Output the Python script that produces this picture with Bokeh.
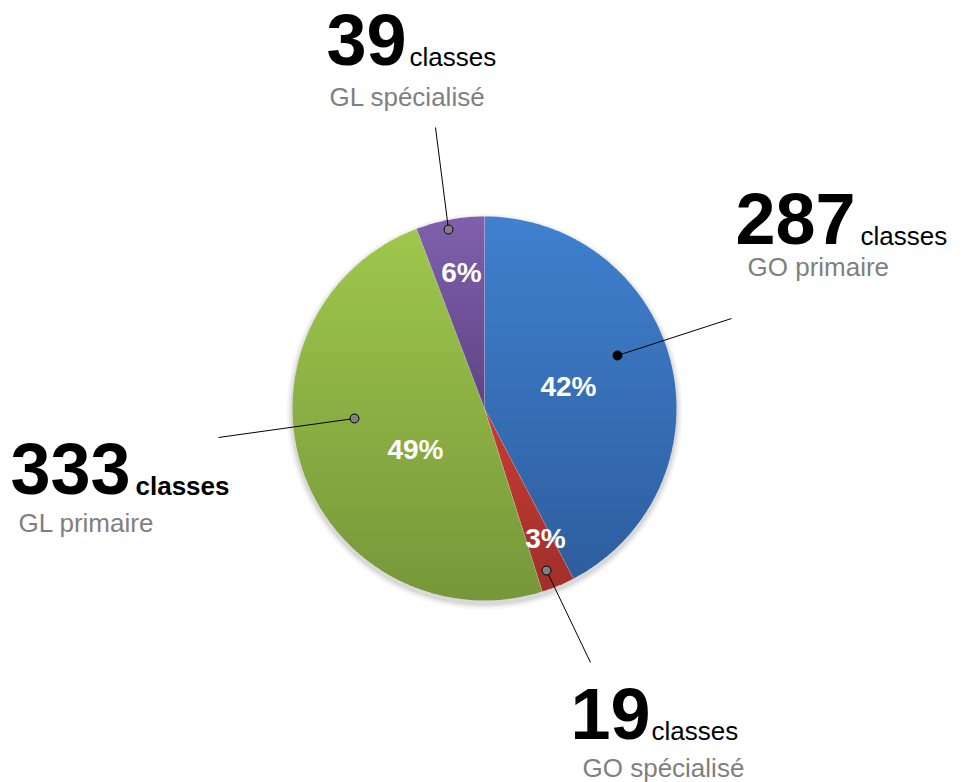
import numpy as np
from bokeh.plotting import figure
from bokeh.models import Range1d
from bokeh.embed import file_html
from bokeh.resources import INLINE
from bokeh.core.properties import value

# ---- data ----
categories = ["GO primaire", "GO spécialisé", "GL primaire", "GL spécialisé"]
counts = [287, 19, 333, 39]
unit_label = "classes"

# ---- styles ----
colors_top = ["#4080cf", "#c43d34", "#9fc74c", "#8060ac"]
colors_bottom = ["#2d5e9e", "#a02f2a", "#76973a", "#5e4485"]
FONT = "Liberation Sans"

W, H = 968, 782
cx, cy, R = 484, 408, 192
BASE_SHIFT = 0.375  # correction (in em) for baseline placement

# layout per category: number pos, unit pos, subtitle pos, unit bold, dot, leader end, dot color, pct pos
layout = {
    "GO primaire":   dict(num=(735, 245), unit=(860, 245), sub=(747, 276), bold=False,
                          dot=(617, 355), end=(731, 318), dotc="#000000", pct=(568, 386)),
    "GO spécialisé": dict(num=(570, 740), unit=(651, 740), sub=(582, 777), bold=False,
                          dot=(546, 570), end=(590, 662), dotc="#808080", pct=(545, 538)),
    "GL primaire":   dict(num=(10, 495), unit=(135, 495), sub=(18, 532), bold=True,
                          dot=(354, 418), end=(218, 437), dotc="#808080", pct=(415, 449)),
    "GL spécialisé": dict(num=(326, 66), unit=(409, 66), sub=(329, 106), bold=False,
                          dot=(448, 229), end=(435, 127), dotc="#808080", pct=(461, 272)),
}

p = figure(width=W, height=H, x_range=Range1d(0, W), y_range=Range1d(H, 0),
           x_axis_type=None, y_axis_type=None, toolbar_location=None,
           output_backend="svg", min_border=0)
p.grid.visible = False
p.outline_line_color = None
p.background_fill_color = "white"
p.border_fill_color = "white"


def hexrgb(h):
    h = h.lstrip("#")
    return np.array([int(h[i:i + 2], 16) for i in (0, 2, 4)], dtype=float)


def mix(c1, c2, t):
    c = hexrgb(c1) * (1 - t) + hexrgb(c2) * t
    return "#%02x%02x%02x" % tuple(int(round(v)) for v in c)


def clip(poly, y0, y1):
    def clip_half(pts, keep, yb):
        out = []
        n = len(pts)
        for i in range(n):
            a, b = pts[i], pts[(i + 1) % n]
            ka, kb = keep(a[1]), keep(b[1])
            if ka:
                out.append(a)
            if ka != kb:
                t = (yb - a[1]) / (b[1] - a[1])
                out.append((a[0] + t * (b[0] - a[0]), yb))
        return out
    pts = clip_half(poly, lambda y: y >= y0, y0)
    if len(pts) < 3:
        return []
    pts = clip_half(pts, lambda y: y <= y1, y1)
    return pts if len(pts) >= 3 else []


# soft shadow
for k, a in [(6, 0.03), (4, 0.05), (2, 0.07)]:
    p.scatter([cx], [cy + 3], size=2 * (R + k), marker="circle",
              fill_color="#000000", fill_alpha=a, line_color=None)
p.scatter([cx], [cy], size=2 * R, marker="circle", fill_color="white", line_color=None)

total = float(sum(counts))
fracs = [c / total for c in counts]
ends = np.cumsum(fracs) * 2 * np.pi
starts = ends - np.array(fracs) * 2 * np.pi

nb = 48
for i, cat in enumerate(categories):
    th = np.linspace(starts[i], ends[i], max(4, int(200 * fracs[i]) + 4))
    poly = [(cx, cy)] + [(cx + R * np.sin(t), cy - R * np.cos(t)) for t in th]
    ys = [q[1] for q in poly]
    ymin, ymax = min(ys), max(ys)
    edges = np.linspace(ymin, ymax, nb + 1)
    xs_list, ys_list, cols = [], [], []
    for b in range(nb):
        piece = clip(poly, edges[b], min(edges[b + 1] + 0.8, ymax))
        if not piece:
            continue
        xs_list.append([q[0] for q in piece])
        ys_list.append([q[1] for q in piece])
        cols.append(mix(colors_top[i], colors_bottom[i], (b + 0.5) / nb))
    p.patches(xs_list, ys_list, fill_color=cols, line_color=None)

# slice separators (thin light lines like the original)
for i in range(len(categories)):
    t = starts[i]
    p.line([cx, cx + R * np.sin(t)], [cy, cy - R * np.cos(t)], line_color="#ffffff",
           line_alpha=0.25, line_width=0.8)

# percent labels
pct_txt = ["%d%%" % round(f * 100) for f in fracs]
p.text([layout[c]["pct"][0] for c in categories], [layout[c]["pct"][1] for c in categories],
       text=pct_txt, text_font=value(FONT), text_font_style="bold", text_font_size="28px",
       text_color="white", text_align="center", text_baseline="middle")

# leader lines and dots
for cat in categories:
    L = layout[cat]
    p.line([L["dot"][0], L["end"][0]], [L["dot"][1], L["end"][1]], line_color="black", line_width=1)
for cat in categories:
    L = layout[cat]
    p.scatter([L["dot"][0]], [L["dot"][1]], size=9, marker="circle",
              fill_color=L["dotc"], line_color="black", line_width=1)


def put(x, y, txt, size, **kw):
    p.text([x], [y - BASE_SHIFT * size], text=[txt], text_font=value(FONT),
           text_font_size="%dpx" % size, text_align="left", text_baseline="alphabetic", **kw)


# outer labels
for cat, n in zip(categories, counts):
    L = layout[cat]
    put(L["num"][0], L["num"][1], str(n), 72, text_font_style="bold", text_color="black")
    put(L["unit"][0], L["unit"][1], unit_label, 26,
        text_font_style="bold" if L["bold"] else "normal", text_color="black")
    put(L["sub"][0], L["sub"][1], cat, 26, text_color="#7f7f7f")

open("out.html", "w").write(file_html(p, INLINE))
